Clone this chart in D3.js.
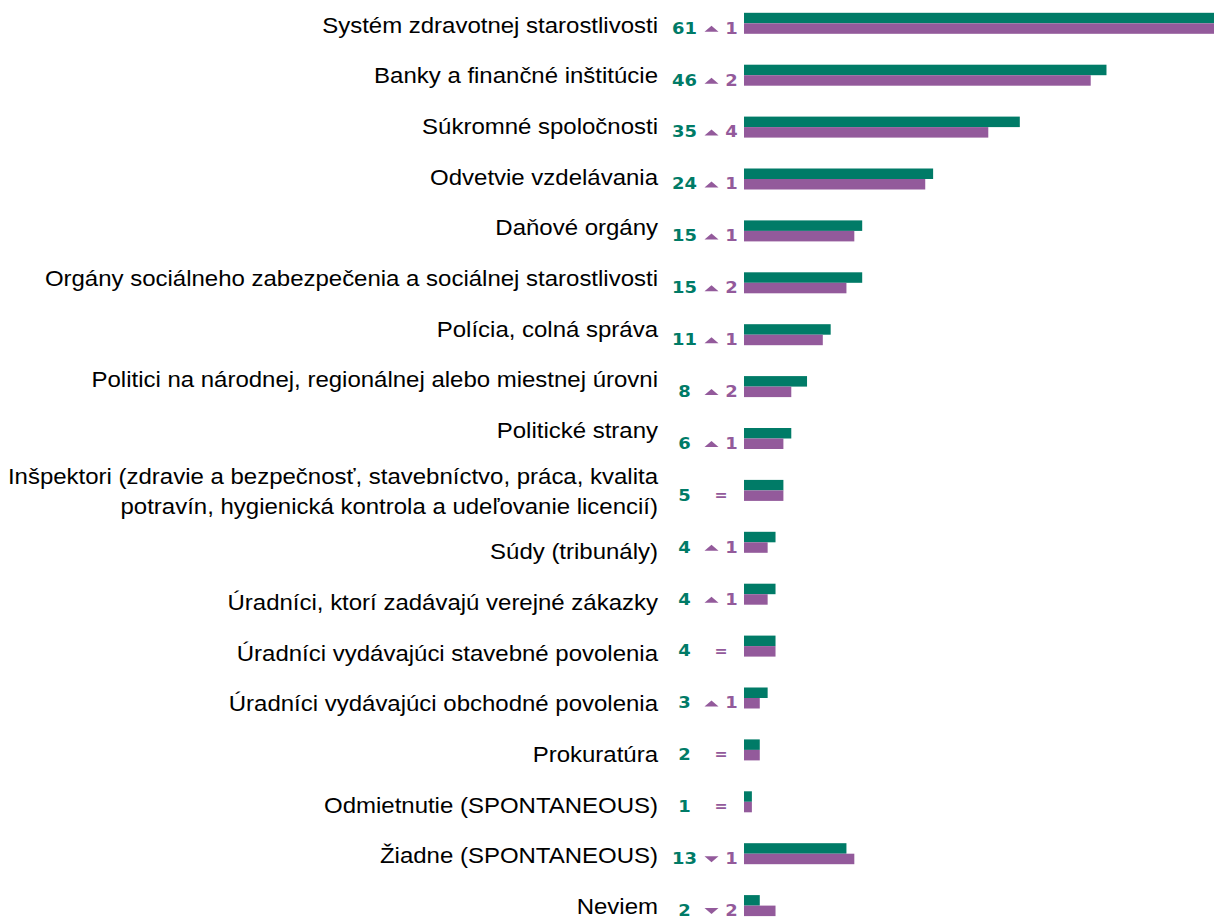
<!DOCTYPE html>
<html>
<head>
<meta charset="utf-8">
<script src="https://cdn.jsdelivr.net/npm/d3@7"></script>
<style>
  html, body { margin: 0; padding: 0; background: #fff; }
  svg { display: block; }
</style>
</head>
<body>
<svg id="chart" width="1214" height="920"></svg>
<script>
const categories = [
  "Systém zdravotnej starostlivosti",
  "Banky a finančné inštitúcie",
  "Súkromné spoločnosti",
  "Odvetvie vzdelávania",
  "Daňové orgány",
  "Orgány sociálneho zabezpečenia a sociálnej starostlivosti",
  "Polícia, colná správa",
  "Politici na národnej, regionálnej alebo miestnej úrovni",
  "Politické strany",
  "Inšpektori (zdravie a bezpečnosť, stavebníctvo, práca, kvalita|potravín, hygienická kontrola a udeľovanie licencií)",
  "Súdy (tribunály)",
  "Úradníci, ktorí zadávajú verejné zákazky",
  "Úradníci vydávajúci stavebné povolenia",
  "Úradníci vydávajúci obchodné povolenia",
  "Prokuratúra",
  "Odmietnutie (SPONTANEOUS)",
  "Žiadne (SPONTANEOUS)",
  "Neviem"
];
const currentValues  = [61, 46, 35, 24, 15, 15, 11, 8, 6, 5, 4, 4, 4, 3, 2, 1, 13, 2];
const previousValues = [60, 44, 31, 23, 14, 13, 10, 6, 5, 5, 3, 3, 4, 2, 2, 1, 14, 4];
const changeValues   = [1, 2, 4, 1, 1, 2, 1, 2, 1, 0, 1, 1, 0, 1, 0, 0, -1, -2];

const green = "#007b67";
const purple = "#935a9b";

const svg = d3.select("#chart");

const x = d3.scaleLinear().domain([0, 100]).range([744, 744 + 788]);
const y = d3.scaleBand().domain(categories).range([23.3 - 25.95, 23.3 - 25.95 + 18 * 51.9]).padding(0);
const barH = 10.5;

const data = categories.map((c, i) => ({ c, i, cur: currentValues[i], prev: previousValues[i], ch: changeValues[i] }));

// bars
const rows = svg.selectAll("g.row")
  .data(data)
  .join("g")
  .attr("class", "row")
  .attr("transform", d => `translate(0,${y(d.c) + y.bandwidth() / 2})`);

rows.append("rect")
  .attr("x", x(0)).attr("y", -barH)
  .attr("width", d => x(d.cur) - x(0)).attr("height", barH)
  .attr("fill", green);
rows.append("rect")
  .attr("x", x(0)).attr("y", 0)
  .attr("width", d => x(d.prev) - x(0)).attr("height", barH)
  .attr("fill", purple);

// Category labels: laid out as a text column (extra lines push following labels down)
const labelStep = 50.7, extraLineStep = 19.7, lineH = 30, labelTop = 24.8;
let extraBefore = 0;
const labelLayer = svg.append("g");
data.forEach(d => {
  const lines = d.c.split("|");
  const n = lines.length;
  const center = labelTop + d.i * labelStep + extraBefore * extraLineStep + (n - 1) * extraLineStep / 2;
  extraBefore += n - 1;
  const g = labelLayer.append("g").attr("transform", `translate(658,${center}) scale(1.116,1)`);
  const t = g.append("text")
    .attr("text-anchor", "end")
    .attr("font-family", "'Liberation Sans', Arial, sans-serif")
    .attr("font-size", 21.5)
    .attr("fill", "#000");
  lines.forEach((ln, k) => {
    t.append("tspan")
      .attr("x", 0)
      .attr("y", 7.7 + (k - (n - 1) / 2) * lineH)
      .text(ln);
  });
});

// Current value
rows.append("g").attr("transform", "translate(684.5,0) scale(1.12,1)")
  .append("text")
  .attr("x", 0).attr("y", 10.3)
  .attr("text-anchor", "middle")
  .attr("font-family", "'DejaVu Sans', Verdana, sans-serif")
  .attr("font-weight", "bold")
  .attr("font-size", 16)
  .attr("fill", green)
  .text(d => d.cur);

// Change indicator
rows.each(function (d) {
  const g = d3.select(this);
  if (d.ch === 0) {
    g.append("g").attr("transform", "translate(721,0) scale(1.12,1)")
      .append("text")
      .attr("x", 0).attr("y", 9.5)
      .attr("text-anchor", "middle")
      .attr("font-family", "'DejaVu Sans', Verdana, sans-serif")
      .attr("font-weight", "bold")
      .attr("font-size", 14)
      .attr("fill", purple)
      .text("=");
  } else {
    const up = d.ch > 0;
    const tri = up ? "M704.5,8.5 L718.5,8.5 L711.5,2.5 Z" : "M704.5,2.5 L718.5,2.5 L711.5,8.5 Z";
    g.append("path").attr("d", tri).attr("fill", purple);
    g.append("g").attr("transform", "translate(731.5,0) scale(1.12,1)")
      .append("text")
      .attr("x", 0).attr("y", 10.3)
      .attr("text-anchor", "middle")
      .attr("font-family", "'DejaVu Sans', Verdana, sans-serif")
      .attr("font-weight", "bold")
      .attr("font-size", 16)
      .attr("fill", purple)
      .text(Math.abs(d.ch));
  }
});
</script>
</body>
</html>
